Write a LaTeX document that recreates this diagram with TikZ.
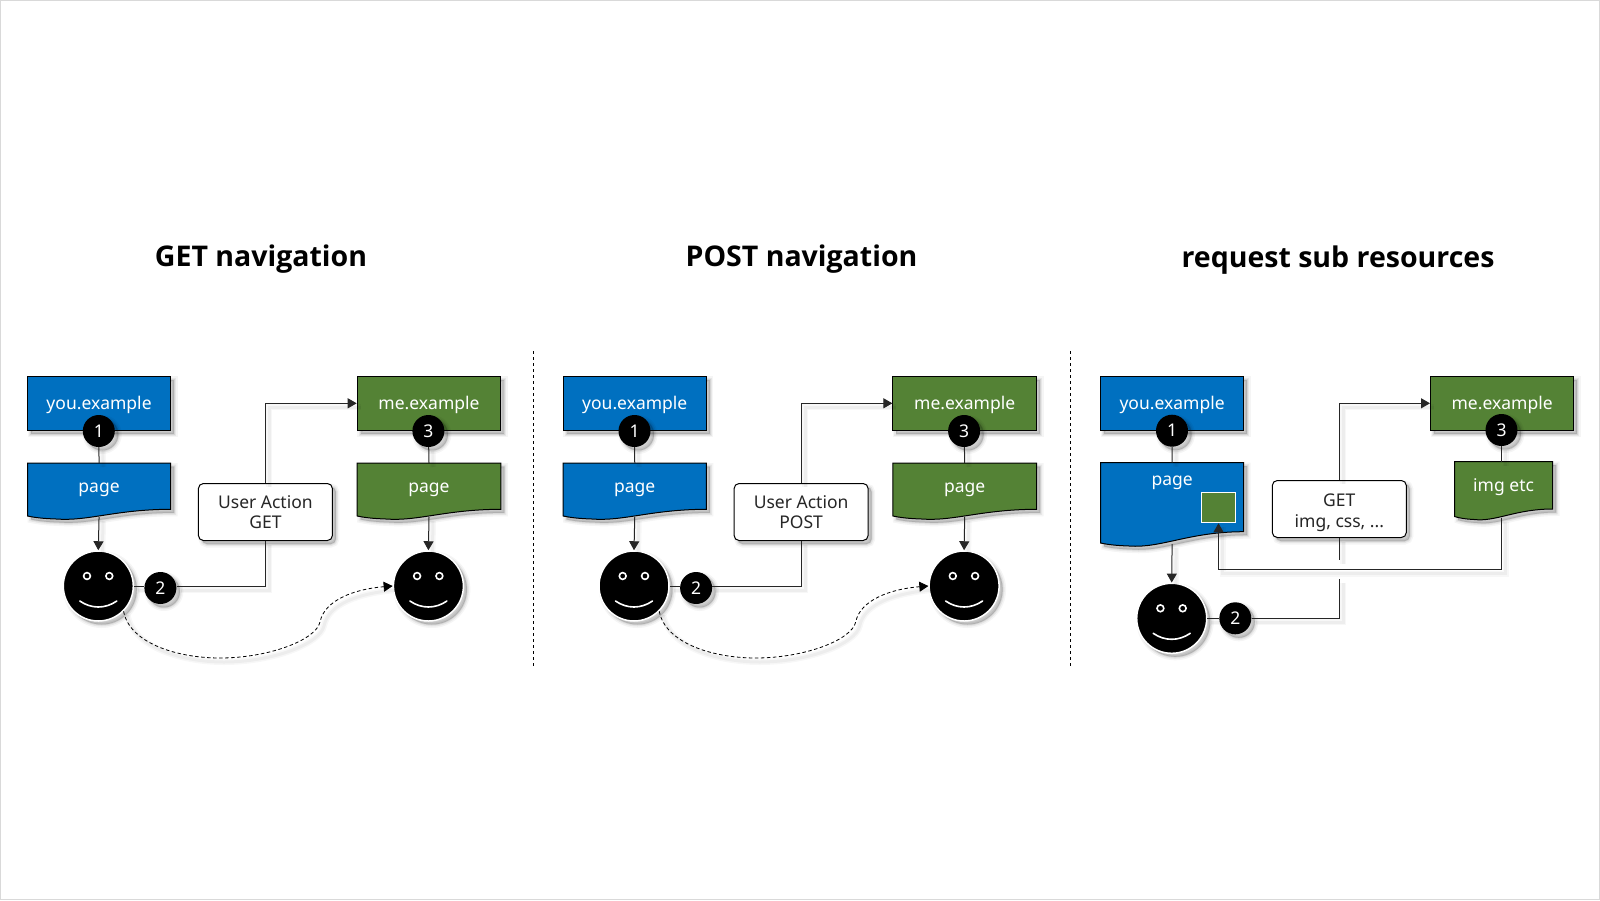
\documentclass[tikz,border=0pt]{standalone}
\usepackage{fontspec}
\setmainfont{Noto Sans}
\newfontfamily\titlefont{Open Sans}
\usetikzlibrary{arrows.meta,calc}
\definecolor{blueS}{HTML}{0070C0}
\definecolor{greenS}{HTML}{548235}
\definecolor{inkS}{HTML}{262626}
\tikzset{
  softshade/.style={
    preaction={draw=black,fill=black,draw opacity=.04,fill opacity=.04,line width=7pt,transform canvas={shift={(3.5pt,-3.5pt)}}},
    preaction={draw=black,fill=black,draw opacity=.06,fill opacity=.06,line width=4pt,transform canvas={shift={(3.5pt,-3.5pt)}}},
    preaction={draw=black,fill=black,draw opacity=.08,fill opacity=.08,line width=1.5pt,transform canvas={shift={(3.5pt,-3.5pt)}}}},
  lineshade/.style={
    preaction={draw=black,draw opacity=.03,line width=6pt,transform canvas={shift={(4pt,-4pt)}},-},
    preaction={draw=black,draw opacity=.04,line width=3pt,transform canvas={shift={(4pt,-4pt)}},-}},
  labelfont/.style={font=\fontsize{17.5}{20.5}\selectfont},
  sitebox/.style={draw=black,line width=1pt,minimum height=54pt,inner sep=0pt,text=white,labelfont,softshade,text height=17pt,text depth=4pt},
  docregion/.style={inner sep=0pt,outer sep=0pt},
  doclabel/.style={inner sep=0pt,text=white,labelfont,text height=13pt,text depth=4pt},
  docshape/.style={draw=black,line width=1pt,softshade},
  actionbox/.style={draw=black,line width=1pt,fill=white,rounded corners=5pt,inner sep=0pt,text=inkS,labelfont,align=center,softshade},
  badge/.style={circle,fill=black,text=white,inner sep=0pt,minimum size=32pt,labelfont,softshade},
  facedisc/.style={circle,fill=black,draw=white,line width=1.5pt,inner sep=0pt,minimum size=70pt,softshade},
  faceline/.style={draw=white,line width=1.6pt},
  conn/.style={draw=black!85,line width=1pt,lineshade},
  arrowconn/.style={conn,-{Triangle[length=9pt,width=10pt]}},
  dashconn/.style={draw=black,line width=.8pt,dash pattern=on 3.5pt off 2.5pt,-{Triangle[length=9pt,width=10pt]},lineshade},
  sepline/.style={draw=black,line width=1pt,dash pattern=on 3pt off 3pt},
  titletext/.style={font=\fontsize{28.5}{32}\selectfont\titlefont\bfseries,text=black,inner sep=0pt,text height=21pt,text depth=6pt}
}
% name, x1, x2, colour, text
\newcommand{\siteNode}[5]{\node[sitebox,fill=#4,minimum width={(#3-#2)*1pt}] (#1) at ({(#2+#3)/2},403.3) {#5};}
% name, x1, x2, ytop, yright, yleft, colour, text, text y
\newcommand{\docNode}[9]{%
  \draw[docshape,fill=#7] (#2,#4) -- (#3,#4) -- (#3,#5) .. controls ({#2+.62*(#3-#2)},#5) and ({#2+.42*(#3-#2)},#6+5.5) .. ({#2+.2*(#3-#2)},#6+3) .. controls ({#2+.1*(#3-#2)},#6+2.5) and ({#2+.05*(#3-#2)},#6+1.5) .. (#2,#6) -- cycle;
  \node[docregion,minimum width={(#3-#2)*1pt},minimum height={(#6+1-#4)*1pt}] (#1) at ({(#2+#3)/2},{(#6+1+#4)/2}) {};
  \node[doclabel] (#1label) at ({(#2+#3)/2},#9) {#8};}
% name, x, y
\newcommand{\faceNode}[3]{%
  \node[facedisc] (#1) at (#2,#3) {};
  \draw[faceline,fill=black] (#2-11.3,#3-10) circle (3.4pt);
  \draw[faceline,fill=black] (#2+11,#3-10) circle (3.4pt);
  \draw[faceline,line cap=round] (#2-18.5,#3+15) .. controls (#2-7,#3+23) and (#2+7,#3+23) .. (#2+18.5,#3+15);}
% prefix, action second line, shift
\newcommand{\navPanel}[3]{%
 \begin{scope}[shift={(#3,0)}]
  \siteNode{#1you}{27.5}{170.6}{blueS}{you.example}
  \siteNode{#1me}{357.2}{500.8}{greenS}{me.example}
  \docNode{#1pageA}{27.5}{170.6}{463}{509.3}{516}{blueS}{page}{487.5}
  \docNode{#1pageB}{357.2}{500.8}{463}{509.3}{516}{greenS}{page}{487.5}
  \faceNode{#1faceA}{98.3}{586}
  \faceNode{#1faceB}{428.4}{586}
  \node[actionbox,minimum width=134pt,minimum height=57pt] (#1act) at (265.4,512) {User Action\\#2};
  \node[badge] (#1bA) at (98.8,431) {1};
  \node[badge] (#1bB) at (160.4,588) {2};
  \node[badge] (#1bC) at (428.4,431) {3};
  \draw[conn] (#1bA) -- (#1pageA.north);
  \draw[conn] (#1bC) -- (#1pageB.north);
  \draw[arrowconn] (#1pageA.south) -- (#1faceA.north);
  \draw[arrowconn] (#1pageB.south) -- (#1faceB.north);
  \draw[conn] (#1faceA.east) -- (#1bB.west |- #1faceA.east);
  \draw[conn] (#1bB.east |- #1faceA.east) -| (#1act.south);
  \draw[arrowconn] (#1act.north) |- (#1me.west);
  \draw[dashconn] (#1faceA.-45) .. controls ++(6,32) and (177.4,658) .. (220,658) .. controls (268.6,658) and (316,640) .. (320,622) .. controls (324.4,600) and (354.8,589) .. (#1faceB.west);
 \end{scope}}
\begin{document}
\begin{tikzpicture}[x=1pt,y=-1pt]
\useasboundingbox (0,0) rectangle (1600,900);
\node[draw=black!15,line width=1pt,fill=white,minimum width=1599pt,minimum height=899pt,inner sep=0pt] (frame) at (800,450) {};
\node[titletext] (t1) at (261,259) {GET navigation};
\node[titletext] (t2) at (801.5,259) {POST navigation};
\node[titletext] (t3) at (1338,260) {request sub resources};
\coordinate (s1a) at (533.5,351); \coordinate (s1b) at (533.5,667);
\coordinate (s2a) at (1070.5,351); \coordinate (s2b) at (1070.5,667);
\draw[sepline] (s1a) -- (s1b);
\draw[sepline] (s2a) -- (s2b);
\navPanel{a}{GET}{0}
\navPanel{b}{POST}{535.7}
% third panel
\siteNode{cyou}{1100.5}{1243.7}{blueS}{you.example}
\siteNode{cme}{1430.5}{1573.7}{greenS}{me.example}
\docNode{cpage}{1100.5}{1243.7}{462.5}{531.7}{543}{blueS}{page}{481}
\docNode{cimg}{1454.5}{1552.7}{461.5}{509}{516.5}{greenS}{img etc}{487}
\node[draw=white,line width=1pt,fill=greenS,minimum width=34pt,minimum height=30.5pt,inner sep=0pt] (csq) at (1218.5,507.5) {};
\faceNode{cface}{1171.7}{618.3}
\node[actionbox,minimum width=134pt,minimum height=57pt] (cact) at (1339.3,509) {\rule{0pt}{20pt}GET\\img, css, ...};
\node[badge] (cb1) at (1172,430.7) {1};
\node[badge] (cb2) at (1235.3,618.3) {2};
\node[badge] (cb3) at (1501.5,430) {3};
\coordinate (cgapTop) at (1339.3,560);
\coordinate (cgapLow) at (1339.3,579);
\coordinate (cturn) at (1501.5,569.7);
\coordinate (cturnB) at (1218.5,569.7);
\draw[conn] (cb1) -- (cpage.north);
\draw[conn] (cb3) -- (cb3 |- cimg.north);
\draw[arrowconn] (cpage.south) -- (cface.north);
\draw[conn] (cface.east) -- (cb2.west);
\draw[conn] (cb2.east) -| (cgapLow);
\draw[conn] (cact.south) -- (cgapTop);
\draw[arrowconn] (cact.north) |- (cme.west);
\draw[arrowconn] (cb3 |- cimg.south) -- (cturn) -- (cturnB) -- (csq.south);
\end{tikzpicture}
\end{document}
